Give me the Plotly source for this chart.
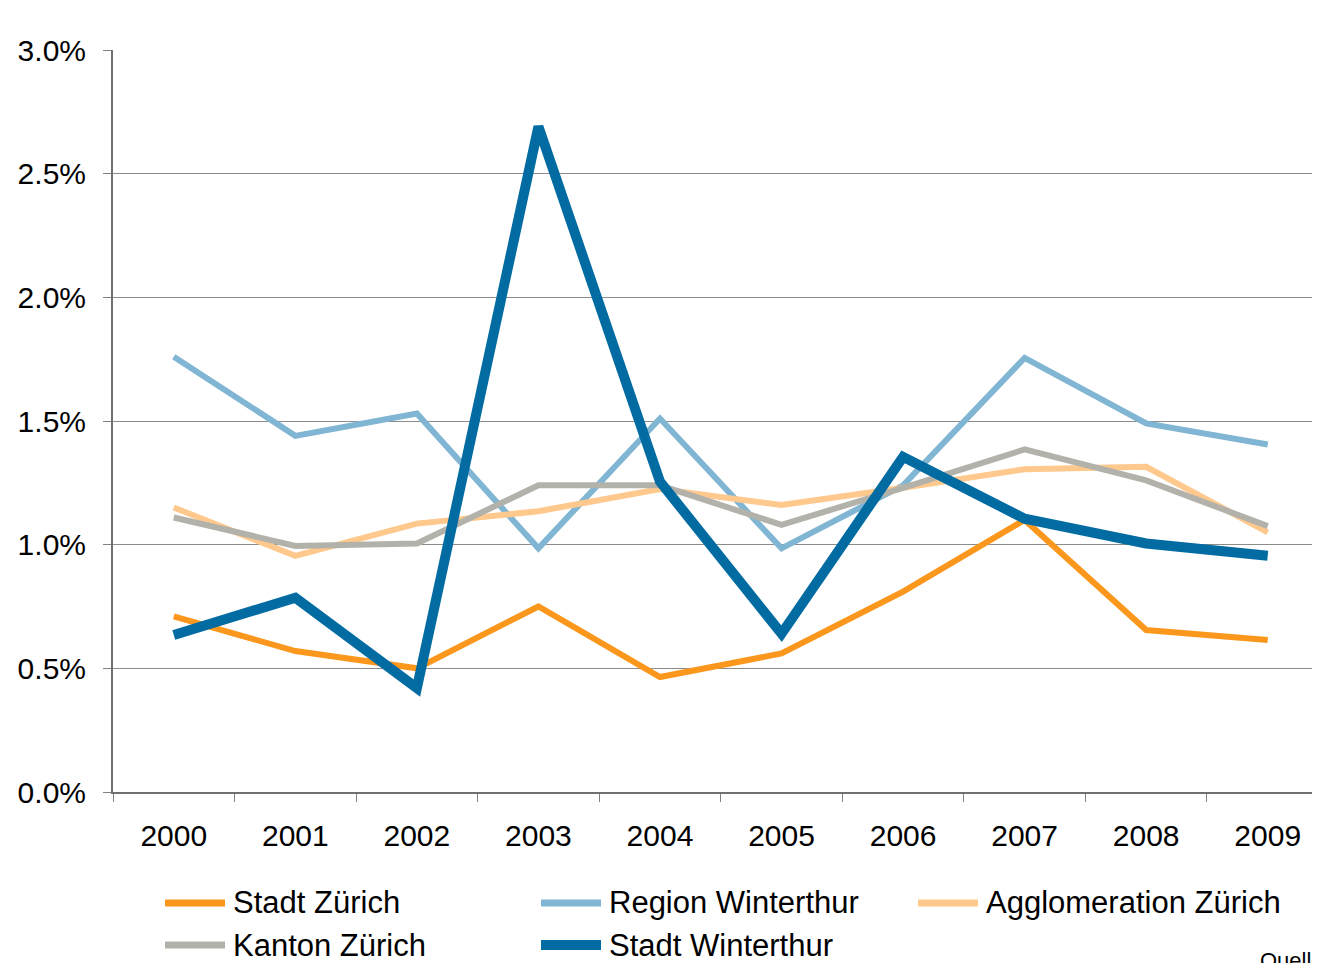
import plotly.graph_objects as go

years = ["2000", "2001", "2002", "2003", "2004", "2005", "2006", "2007", "2008", "2009"]

stadt_zuerich = [0.71, 0.57, 0.50, 0.75, 0.465, 0.56, 0.81, 1.10, 0.655, 0.615]
region_winterthur = [1.76, 1.44, 1.53, 0.985, 1.51, 0.985, 1.24, 1.755, 1.49, 1.405]
agglo_zuerich = [1.15, 0.955, 1.085, 1.135, 1.225, 1.16, 1.23, 1.305, 1.315, 1.05]
kanton_zuerich = [1.11, 0.995, 1.005, 1.24, 1.24, 1.08, 1.23, 1.385, 1.26, 1.075]
stadt_winterthur = [0.635, 0.785, 0.42, 2.69, 1.255, 0.64, 1.355, 1.105, 1.005, 0.955]

series_names = ["Stadt Zürich", "Region Winterthur", "Agglomeration Zürich",
                "Kanton Zürich", "Stadt Winterthur"]
series_values = [stadt_zuerich, region_winterthur, agglo_zuerich,
                 kanton_zuerich, stadt_winterthur]
series_colors = ["#FB971C", "#80B6D3", "#FFC88C", "#B3B2AA", "#026BA2"]
series_widths = [6, 6, 6, 6, 10]

y_ticks = [0.0, 0.5, 1.0, 1.5, 2.0, 2.5, 3.0]
y_labels = ["0.0%", "0.5%", "1.0%", "1.5%", "2.0%", "2.5%", "3.0%"]

OFF = 8  # page offset of the figure (body margin)
W, H = 1312, 955
L, T = 113 - OFF, 50 - OFF
B = H - (792 - OFF)
plot_h = H - T - B
plot_w = W - L


def px_x(page_x):
    return (page_x - OFF - L) / plot_w


def px_y(page_y):
    return (T + plot_h - (page_y - OFF)) / plot_h


fig = go.Figure()
for name, vals, col, w in zip(series_names, series_values, series_colors, series_widths):
    fig.add_trace(go.Scatter(x=years, y=vals, mode="lines", name=name,
                             line=dict(color=col, width=w), showlegend=False))

# manual legend
font = "Liberation Sans, Arial, sans-serif"
legend_pos = [(165, 903), (541, 903), (918, 903), (165, 945), (541, 945)]
for (px, py), name, col, w in zip(legend_pos, series_names, series_colors, series_widths):
    yp = px_y(py)
    fig.add_shape(type="line", xref="paper", yref="paper",
                  x0=px_x(px), x1=px_x(px + 60), y0=yp, y1=yp,
                  line=dict(color=col, width=7 if w < 10 else 10))
    fig.add_annotation(xref="paper", yref="paper", x=px_x(px + 66), y=yp,
                       text=name, showarrow=False, xanchor="left", yanchor="middle",
                       font=dict(family=font, size=31, color="#000"))

fig.add_annotation(xref="paper", yref="paper", x=px_x(1258),
                   y=px_y(960), text="Quelle: Statistisches Amt",
                   showarrow=False, xanchor="left", yanchor="middle",
                   font=dict(family=font, size=22, color="#000"))

fig.update_layout(
    width=W, height=H,
    margin=dict(l=L, r=0, t=T, b=B),
    paper_bgcolor="white", plot_bgcolor="white",
    font=dict(family=font, color="#000"),
    showlegend=False,
)
fig.update_xaxes(
    type="category", range=[-0.5, 9.43], tickson="boundaries",
    ticks="outside", ticklen=8, tickcolor="#808080", tickwidth=1,
    showline=True, linecolor="#707070", linewidth=2,
    showgrid=False, tickfont=dict(size=30, family=font),
    ticklabelstandoff=16,
)
fig.update_yaxes(
    range=[0, 3], tickvals=y_ticks, ticktext=y_labels,
    ticks="outside", ticklen=8, tickcolor="#808080", tickwidth=1,
    showline=True, linecolor="#707070", linewidth=2,
    showgrid=True, gridcolor="#8c8c8c", gridwidth=1, zeroline=False,
    tickfont=dict(size=30, family=font), ticklabelstandoff=11,
)

fig.write_html("out.html")
